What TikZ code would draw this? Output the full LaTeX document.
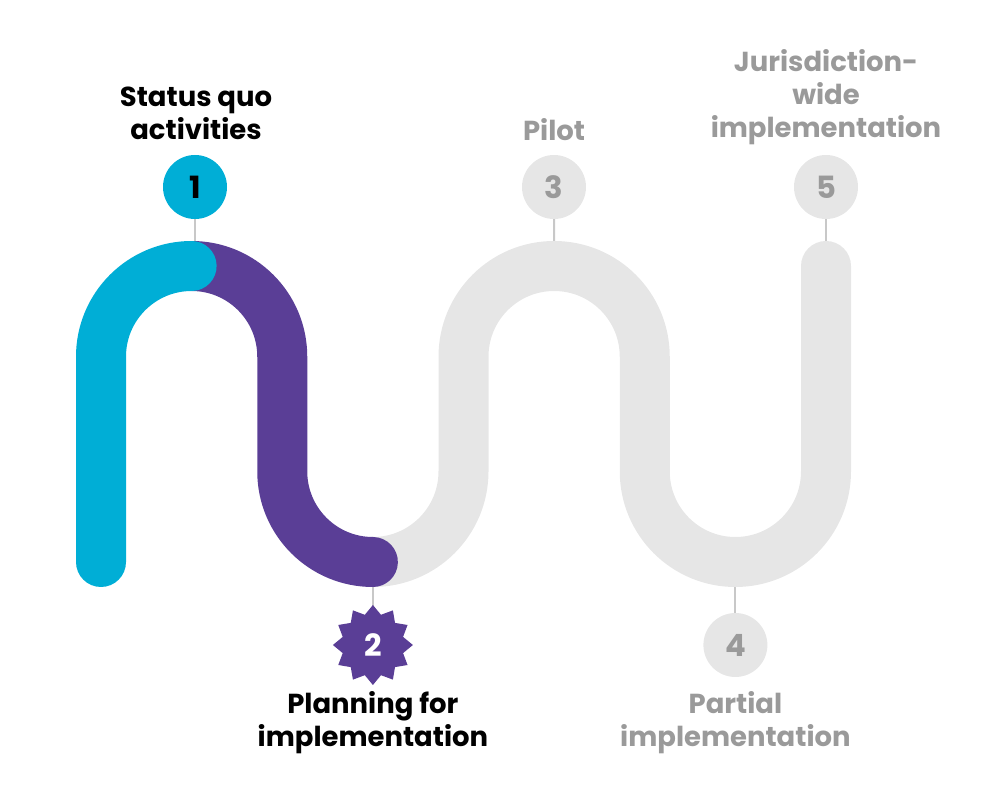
\documentclass[tikz,border=0pt]{standalone}
\usepackage{fontspec}
\setmainfont{Poppins}
\usetikzlibrary{shapes.geometric}
\definecolor{cy}{HTML}{00AED6}
\definecolor{pu}{HTML}{5A3E96}
\definecolor{lg}{HTML}{E6E6E6}
\definecolor{tg}{HTML}{9A9A9A}
\definecolor{cg}{HTML}{C8C8C8}
\pgfdeclarelayer{background}
\pgfsetlayers{background,main}
\tikzset{
  num/.style={circle,minimum size=48pt,inner sep=0pt,font=\fontsize{23}{23}\selectfont\bfseries},
  donenum/.style={num,fill=cy,text=black},
  todonum/.style={num,fill=lg,text=tg},
  starnum/.style={star,star points=12,star point ratio=1.28,minimum size=60pt,inner sep=0pt,fill=pu,text=white,font=\fontsize{23}{23}\selectfont\bfseries},
  lab/.style={align=center,font=\fontsize{20.6}{24.8}\selectfont\bfseries},
  conn/.style={draw=cg,line width=1.5pt},
  road/.style={line width=37.5pt,line cap=round}
}
\begin{document}
\begin{tikzpicture}[x=0.75pt,y=0.75pt]
\useasboundingbox (0,0) rectangle (1000,800);
% numbered markers
\node[donenum] (n1) at (195,613) {1};
\node[starnum] (n2) at (372.9,155) {2};
\node[todonum] (n3) at (554,613) {3};
\node[todonum] (n4) at (735.4,155) {4};
\node[todonum] (n5) at (826,613) {5};
% labels
\node[lab,text=black] (l1) at (196,687) {Status quo\\activities};
\node[lab,text=black] (l2) at (372.9,77) {Planning for\\implementation};
\node[lab,text=tg] (l3) at (554,670) {Pilot};
\node[lab,text=tg] (l4) at (735.4,77) {Partial\\implementation};
\node[lab,text=tg] (l5) at (826,703) {Jurisdiction-\\wide\\implementation};
% path anchor points
\coordinate (p1) at (195,534);
\coordinate (p2) at (372.9,238);
\coordinate (p3) at (554.1,534);
\coordinate (p4) at (735.4,238);
\coordinate (p5) at (826,534);
\begin{pgfonlayer}{background}
\draw[conn] (n1.center) -- (p1);
\draw[conn] (n2.center) -- (p2);
\draw[conn] (n3.center) -- (p3);
\draw[conn] (n4.center) -- (p4);
\draw[conn] (n5.center) -- (p5);
% gray remainder
\draw[road,draw=lg] (372.875,238) arc (270:360:90.625) -- (463.5,443.375) arc (180:0:90.625) -- (644.75,328.625) arc (180:360:90.625) -- (826,534);
% purple
\draw[road,draw=pu] (191.625,534) arc (90:0:90.625) -- (282.25,328.625) arc (180:270:90.625);
% cyan
\draw[road,draw=cy] (101,238) -- (101,443.375) arc (180:90:90.625);
\end{pgfonlayer}
\end{tikzpicture}
\end{document}
